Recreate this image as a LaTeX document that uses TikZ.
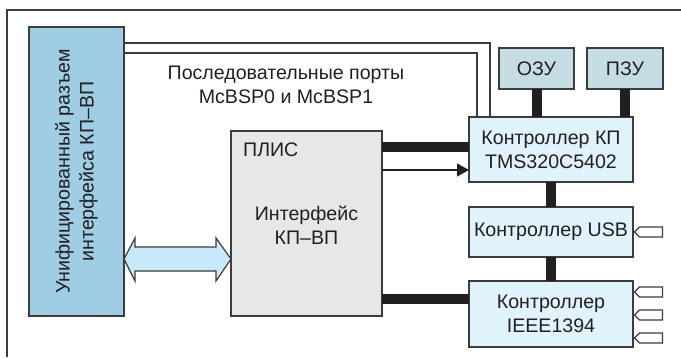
\documentclass[tikz,border=0pt]{standalone}
\usepackage{fontspec}
\setmainfont{Liberation Sans}
\usetikzlibrary{calc,arrows.meta}
\definecolor{connblue}{HTML}{9ECDE4}
\definecolor{memblue}{HTML}{C6DCE5}
\definecolor{ctlblue}{HTML}{E0F2FB}
\definecolor{plisgray}{HTML}{E6E7E8}
\definecolor{arrblue}{HTML}{C8E9F9}
\definecolor{edge}{HTML}{3C3C3C}
\definecolor{ink}{HTML}{231F20}
\begin{document}
\begin{tikzpicture}[x=1pt,y=-1pt,
  box/.style={draw=edge, line width=1.2pt, inner sep=0pt, outer sep=0pt,
    align=center, font=\fontsize{19.6}{24}\selectfont, text=ink},
  txt/.style={inner sep=0pt, align=center, font=\fontsize{19.6}{24}\selectfont, text=ink},
  bus/.style={draw=ink, line width=10pt},
  serline/.style={draw=edge, line width=1.4pt},
  sigline/.style={draw=ink, line width=1.2pt, -{Triangle[length=12pt,width=13pt]}},
  portshape/.style={draw=edge, line width=1.1pt, fill=white},
  frameline/.style={draw=edge, line width=1.5pt}]
\useasboundingbox (0,0) rectangle (681,357);
\fill[white] (0,0) rectangle (681,357);
\draw[frameline] (7,357) -- (7,10) -- (681,10);

% boxes
\node[box, fill=connblue, minimum width=95pt, minimum height=289pt] (conn) at (76.5,171.5) {};
\node[txt, rotate=90] (conntxt) at (conn.center) {Унифицированный разъем\\интерфейса КП–ВП};
\node[box, fill=plisgray, minimum width=151pt, minimum height=185pt] (plis) at (306.5,223.5) {};
\node[txt] (plistxt) at ([yshift=-2pt]plis.center) {Интерфейс\\КП–ВП};
\node[txt, anchor=north west] (plislbl) at ([xshift=12pt,yshift=-12pt]plis.north west) {ПЛИС};
\node[box, fill=ctlblue, minimum width=164pt, minimum height=65pt] (kp) at (551,149.5) {Контроллер КП\\TMS320C5402};
\node[box, fill=ctlblue, minimum width=164pt, minimum height=50pt] (usb) at (551,232) {Контроллер USB};
\node[box, fill=ctlblue, minimum width=164pt, minimum height=66pt] (ieee) at (551,314) {Контроллер\\IEEE1394};
\node[box, fill=memblue, minimum width=75pt, minimum height=41pt] (ram) at (536.5,68.5) {ОЗУ};
\node[box, fill=memblue, minimum width=76pt, minimum height=41pt] (rom) at (625,68.5) {ПЗУ};

\node[txt] (sertxt) at (286,85) {Последовательные порты\\McBSP0 и McBSP1};

% serial port lines
\draw[serline] ([yshift=-16pt]conn.north east) -| ([xshift=21pt]kp.north west);
\draw[serline] ([yshift=-26pt]conn.north east) -| ([xshift=8pt]kp.north west);

% buses
\draw[bus] (ram.south) -- (ram.south |- kp.north);
\draw[bus] (rom.south) -- (rom.south |- kp.north);
\draw[bus] (kp.south) -- (usb.north);
\draw[bus] (usb.south) -- (ieee.north);
\coordinate (b1) at ([yshift=2.5pt]kp.west);
\draw[bus] (b1 -| plis.east) -- (b1);
\coordinate (b2) at ([yshift=15pt]ieee.west);
\draw[bus] (b2 -| plis.east) -- (b2);
\coordinate (a1) at ([yshift=-20.5pt]kp.west);
\draw[sigline] (a1 -| plis.east) -- (a1);

% double arrow
\coordinate (L) at (conn.east |- 0,259);
\coordinate (R) at (plis.west |- 0,259);
\draw[draw=edge, line width=1.2pt, fill=arrblue, line join=miter]
  (L) -- ($(L)+(11,-21)$) -- ($(L)+(11,-12)$) -- ($(R)+(-15,-12)$) -- ($(R)+(-15,-21)$)
  -- (R) -- ($(R)+(-15,22)$) -- ($(R)+(-15,12)$) -- ($(L)+(11,12)$) -- ($(L)+(11,22)$) -- cycle;

% ports
\foreach \s/\n in {usb/0, ieee/-22, ieee/1, ieee/24}{
  \draw[portshape] ($(\s.east)+(1.5,\n)$) -- ++(5,-5) -- ++(23,0) -- ++(0,10) -- ++(-23,0) -- cycle;
}
\end{tikzpicture}
\end{document}
